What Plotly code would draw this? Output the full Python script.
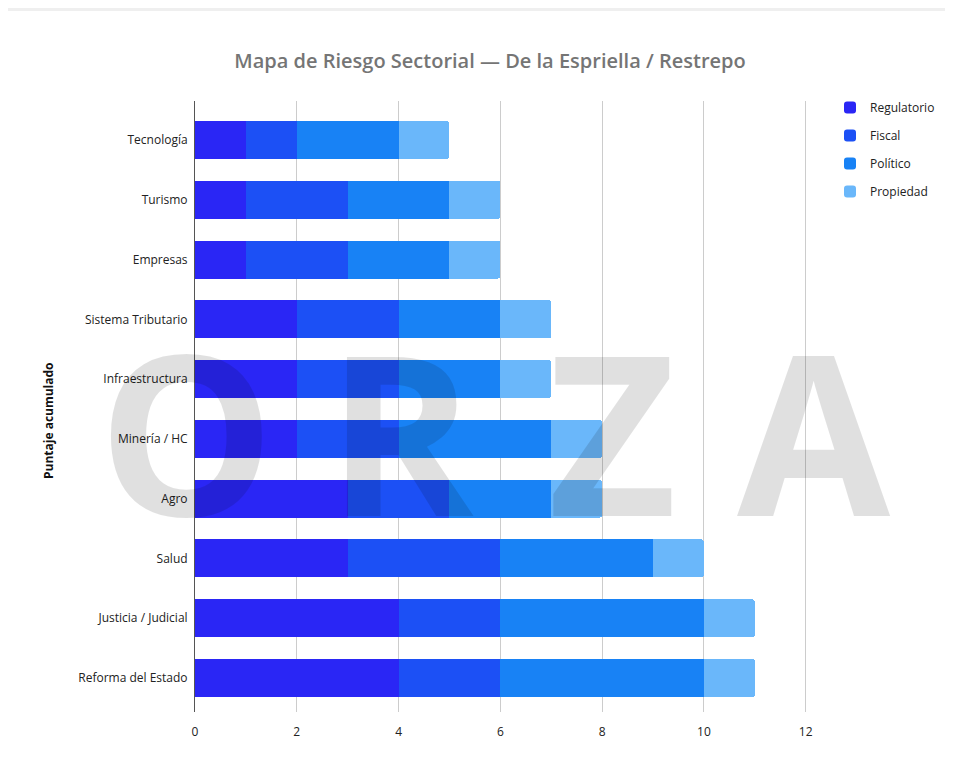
import plotly.graph_objects as go

# Categories listed bottom -> top (as plotted)
categories = ["Reforma del Estado", "Justicia / Judicial", "Salud", "Agro", "Minería / HC",
              "Infraestructura", "Sistema Tributario", "Empresas", "Turismo", "Tecnología"]
regulatorio = [4, 4, 3, 3, 2, 2, 2, 1, 1, 1]
fiscal      = [2, 2, 3, 2, 2, 2, 2, 2, 2, 1]
politico    = [4, 4, 3, 2, 3, 2, 2, 2, 2, 2]
propiedad   = [1, 1, 1, 1, 1, 1, 1, 1, 1, 1]

series_names = ["Regulatorio", "Fiscal", "Político", "Propiedad"]
series_values = [regulatorio, fiscal, politico, propiedad]
series_colors = ["#2a26f5", "#1c50f5", "#1882f5", "#6ab7fa"]

x_ticks = [0, 2, 4, 6, 8, 10, 12]
watermark_letters = ["O", "R", "Z", "A"]

OFF = 8  # page body margin
W, H = 953 - OFF, 773 - OFF
L, R, T, B = 195 - OFF, 821 - OFF, 101 - OFF, 712 - OFF

def px(p):
    return (p - OFF - L) / (R - L)

def py(p):
    return (B - (p - OFF)) / (B - T)

fig = go.Figure()
for i, (name, vals, col) in enumerate(zip(series_names, series_values, series_colors)):
    fig.add_trace(go.Bar(
        y=categories, x=vals, name=name, orientation="h",
        marker=dict(color=col, line=dict(width=0)),
        legendgroup=name,
    ))

annotations = []
for letter, cx in zip(watermark_letters, [186, 400, 612, 814]):
    annotations.append(dict(
        text=letter, xref="paper", yref="paper", x=px(cx), y=py(430),
        xanchor="center", yanchor="middle", showarrow=False,
        font=dict(family="Open Sans", size=222, color="rgba(0,0,0,0.12)", weight=700),
    ))
annotations.append(dict(
    text="<b>Puntaje acumulado</b>", xref="paper", yref="paper", x=px(48), y=py(421),
    xanchor="center", yanchor="middle", showarrow=False, textangle=-90,
    font=dict(family="Open Sans", size=12, color="#111111"),
))

fig.update_layout(
    width=W, height=H,
    margin=dict(l=L, r=W - R, t=T, b=H - B, autoexpand=False),
    paper_bgcolor="#efefef",
    plot_bgcolor="white",
    barmode="stack",
    bargap=0.364,
    barcornerradius=3,
    title=dict(text="Mapa de Riesgo Sectorial — De la Espriella / Restrepo",
               xref="container", yref="container",
               x=(490 - OFF) / W, xanchor="center", y=1 - (61 - OFF) / H, yanchor="middle",
               font=dict(family="Open Sans", size=20, color="#757575", weight=600)),
    font=dict(family="Open Sans", size=12, color="#222222"),
    xaxis=dict(range=[0, 12.3], tickvals=x_ticks, showgrid=True, gridcolor="#cccccc",
               gridwidth=1, zeroline=False, showline=False, ticks="",
               ticklabelstandoff=11,
               tickfont=dict(size=12, color="#222222"), fixedrange=True),
    yaxis=dict(range=[-0.569, 9.652], showgrid=False, showline=True, linecolor="#555555",
               linewidth=1, ticks="", ticklabelstandoff=4,
               categoryorder="array", categoryarray=categories,
               tickfont=dict(size=12, color="#222222")),
    legend=dict(x=px(830), xanchor="left", y=py(93), yanchor="top",
                bgcolor="rgba(0,0,0,0)", font=dict(size=12, color="#222222"),
                tracegroupgap=9, itemwidth=30, traceorder="grouped"),
    shapes=[dict(type="rect", xref="paper", yref="paper", x0=px(5), x1=px(970),
                 y0=py(790), y1=py(11), fillcolor="white", line=dict(width=0), layer="below")],
    annotations=annotations,
)

fig.write_html("out.html")
